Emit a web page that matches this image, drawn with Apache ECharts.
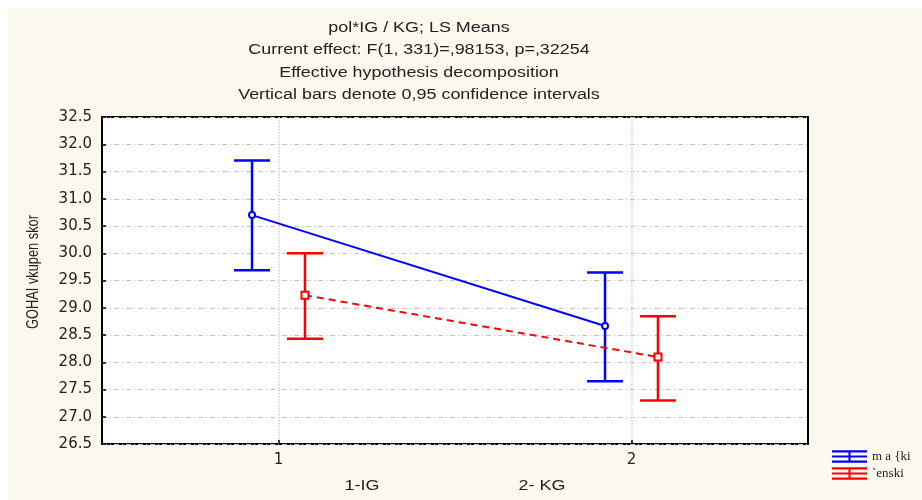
<!DOCTYPE html>
<html lang="en">
<head>
    <meta charset="UTF-8">
    <title>pol*IG / KG; LS Means</title>
    <script type="text/javascript" src="https://cdn.jsdelivr.net/npm/echarts@6/dist/echarts.min.js"></script>
    <style>
        html, body { margin: 0; padding: 0; background: #fff; }
    </style>
</head>
<body>
    <div id="chart" style="width:922px;height:500px;"></div>
<script>
// data
var groups = ['1', '2'];
var groupNames = ['1-IG', '2- KG'];
var seriesNames = ['m a {ki', '`enski'];
var xOffsets = [-0.075, 0.075];          // small shift of each sex around the group position
var means = [[30.70, 28.665], [29.23, 28.095]];
var lower = [[29.69, 27.65], [28.43, 27.30]];
var upper = [[31.70, 29.645], [30.00, 28.845]];
var yTicks = [26.5, 27.0, 27.5, 28.0, 28.5, 29.0, 29.5, 30.0, 30.5, 31.0, 31.5, 32.0, 32.5];
var titleLines = [
    'pol*IG / KG; LS Means',
    'Current effect: F(1, 331)=,98153, p=,32254',
    'Effective hypothesis decomposition',
    'Vertical bars denote 0,95 confidence intervals'
];
var yName = 'GOHAI vkupen skor';

var colors = ['#0000ff', '#ff0000'];

var myChart = echarts.init(document.getElementById('chart'));

function points(s) {
    return groups.map(function (g, i) {
        return [Number(g) + xOffsets[s], means[s][i]];
    });
}
function bars(s) {
    return groups.map(function (g, i) {
        return [Number(g) + xOffsets[s], lower[s][i], upper[s][i]];
    });
}

// error bar with caps
function errorBar(color) {
    return function (params, api) {
        var x = api.value(0);
        var lo = api.coord([x, api.value(1)]);
        var hi = api.coord([x, api.value(2)]);
        var w = 18;
        var st = { stroke: color, lineWidth: 2.5 };
        return {
            type: 'group',
            children: [
                { type: 'line', shape: { x1: lo[0], y1: lo[1], x2: hi[0], y2: hi[1] }, style: st },
                { type: 'line', shape: { x1: hi[0] - w, y1: hi[1], x2: hi[0] + w, y2: hi[1] }, style: st },
                { type: 'line', shape: { x1: lo[0] - w, y1: lo[1], x2: lo[0] + w, y2: lo[1] }, style: st }
            ]
        };
    };
}

var legendIcon = 'path://M0,0H34V2H0Z M0,5H34V7H0Z M0,10H34V12H0Z M16,0H18V12H16Z';

// the original picture is stretched sideways, so texts get a scaleX
var font = '14px "Liberation Sans", Arial, sans-serif';
var graphics = [
    { type: 'rect', z: -10, shape: { x: 8, y: 9, width: 914, height: 491 }, style: { fill: '#fdf8ee' } }
];
titleLines.forEach(function (t, i) {
    graphics.push({
        type: 'text', x: 419, y: 28 + i * 22.5, scaleX: 1.28,
        style: { text: t, fill: '#222', font: font, textAlign: 'center', textVerticalAlign: 'middle' }
    });
});
groupNames.forEach(function (t, i) {
    graphics.push({
        type: 'text', x: [362, 542][i], y: 486, scaleX: 1.28,
        style: { text: t, fill: '#222', font: font, textAlign: 'center', textVerticalAlign: 'middle' }
    });
});
graphics.push({
    type: 'text', x: 34, y: 272, rotation: Math.PI / 2, scaleX: 0.8,
    style: { text: yName, fill: '#222', font: '16px "Liberation Sans", Arial, sans-serif', textAlign: 'center', textVerticalAlign: 'middle' }
});

var option = {
    animation: false,
    color: colors,
    graphic: graphics,
    grid: {
        left: 102, top: 117, right: 114, bottom: 56,
        show: true, backgroundColor: '#fff', borderColor: '#000', borderWidth: 2
    },
    legend: {
        orient: 'vertical',
        left: 827, top: 445,
        itemWidth: 35, itemHeight: 13, itemGap: 4,
        textStyle: { fontFamily: '"Liberation Serif", serif', fontSize: 13, color: '#222' },
        data: seriesNames.map(function (n) { return { name: n, icon: legendIcon }; })
    },
    xAxis: {
        type: 'value', min: 0.5, max: 2.5,
        axisLine: { show: false },
        axisTick: { show: true, inside: true, length: 4, customValues: groups.map(Number), lineStyle: { color: '#000', width: 1.5 } },
        axisLabel: { customValues: groups.map(Number), margin: 9, color: '#222', fontSize: 15, fontFamily: '"DejaVu Sans", sans-serif' },
        splitLine: { show: true, lineStyle: { color: '#cfcfcf', type: 'dotted', width: 1.5 } }
    },
    yAxis: {
        type: 'value', min: yTicks[0], max: yTicks[yTicks.length - 1], interval: 0.5,
        axisLine: { show: false },
        axisTick: { show: true, inside: true, length: 4, lineStyle: { color: '#000', width: 1.5 } },
        axisLabel: { margin: 10, color: '#222', fontSize: 15, fontFamily: '"DejaVu Sans", sans-serif',
            formatter: function (v) { return v.toFixed(1); } },
        splitLine: { show: true, lineStyle: { color: '#c4c4c4', type: [5, 3, 1, 3], width: 1 } }
    },
    series: [
        { type: 'custom', name: 'eb0', renderItem: errorBar(colors[0]), data: bars(0), z: 2, silent: true },
        { type: 'custom', name: 'eb1', renderItem: errorBar(colors[1]), data: bars(1), z: 2, silent: true },
        {
            type: 'line', name: seriesNames[0], data: points(0), z: 5,
            symbol: 'emptyCircle', symbolSize: 6,
            lineStyle: { color: colors[0], width: 2 },
            itemStyle: { color: colors[0], borderWidth: 1.2 }
        },
        {
            type: 'line', name: seriesNames[1], data: points(1), z: 5,
            symbol: 'emptyRect', symbolSize: 7,
            lineStyle: { color: colors[1], width: 2, type: [7, 5] },
            itemStyle: { color: colors[1], borderWidth: 1.2 }
        }
    ]
};

myChart.setOption(option);
</script>
</body>
</html>
